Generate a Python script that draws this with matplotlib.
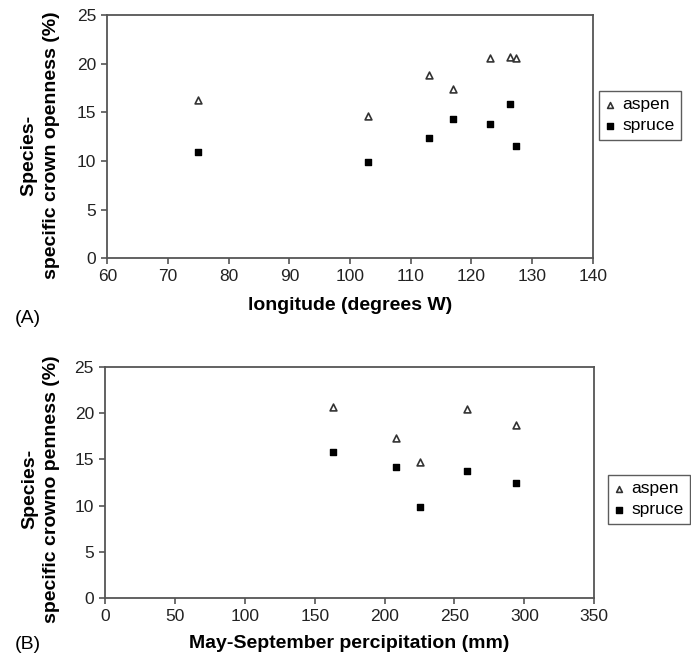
import matplotlib
matplotlib.use("Agg")
import matplotlib.pyplot as plt
from matplotlib.ticker import MultipleLocator

# data
longitude = [75, 103, 113, 117, 123, 126.3, 127.4]
aspen_lon = [16.3, 14.6, 18.8, 17.4, 20.6, 20.7, 20.6]
spruce_lon = [10.9, 9.9, 12.4, 14.3, 13.8, 15.9, 11.5]

precip = [163, 208, 225, 259, 294]
aspen_pre = [20.7, 17.3, 14.7, 20.5, 18.7]
spruce_pre = [15.8, 14.2, 9.8, 13.7, 12.4]

plt.rcParams["font.family"] = ["Liberation Sans", "DejaVu Sans"]

axis_col = "#555555"

fig = plt.figure(figsize=(6.91, 6.57), dpi=100)
axA = fig.add_axes([0.1553, 0.6068, 0.7024, 0.3704])
axB = fig.add_axes([0.1520, 0.0898, 0.7080, 0.3516])


def style(ax, xmin, xmax, xstep):
    ax.set_xlim(xmin, xmax)
    ax.set_ylim(0, 25)
    ax.xaxis.set_major_locator(MultipleLocator(xstep))
    ax.yaxis.set_major_locator(MultipleLocator(5))
    for s in ax.spines.values():
        s.set_color(axis_col)
        s.set_linewidth(1.3)
    ax.tick_params(direction="out", length=4, width=1.2, color=axis_col,
                   labelsize=12.5, pad=4, labelcolor="#222222")


def draw(ax, x, a, s, leg_xy):
    ax.scatter(x, a, marker="^", s=24, facecolors="white",
               edgecolors="#333333", linewidths=1.2, label="aspen", zorder=3)
    ax.scatter(x, s, marker="s", s=22, color="black", label="spruce", zorder=3)
    ax.legend(loc="upper left", bbox_to_anchor=leg_xy,
              bbox_transform=fig.transFigure, frameon=True, fancybox=False,
              edgecolor="#333333", fontsize=12.5, handlelength=0.6,
              handletextpad=0.4, borderpad=0.35, labelspacing=0.35,
              borderaxespad=0, markerscale=0.85, scatterpoints=1)


style(axA, 60, 140, 10)
draw(axA, longitude, aspen_lon, spruce_lon, (0.867, 0.8615))
axA.set_xlabel("longitude (degrees W)", fontsize=14, fontweight="bold",
               labelpad=9)
axA.set_ylabel("Species-    \nspecific crown openness (%)", fontsize=14,
               fontweight="bold", linespacing=1.38)
axA.yaxis.set_label_coords(-0.097, 0.466)
fig.text(0.021, 0.508, "(A)", fontsize=14)

style(axB, 0, 350, 50)
draw(axB, precip, aspen_pre, spruce_pre, (0.880, 0.277))
axB.set_xlabel("May-September percipitation (mm)", fontsize=14,
               fontweight="bold", labelpad=8)
axB.set_ylabel("Species-\nspecific crowno penness (%)", fontsize=14,
               fontweight="bold", linespacing=1.38)
axB.yaxis.set_label_coords(-0.092, 0.472)
fig.text(0.021, 0.012, "(B)", fontsize=14)

fig.savefig("out.png", dpi=100)
